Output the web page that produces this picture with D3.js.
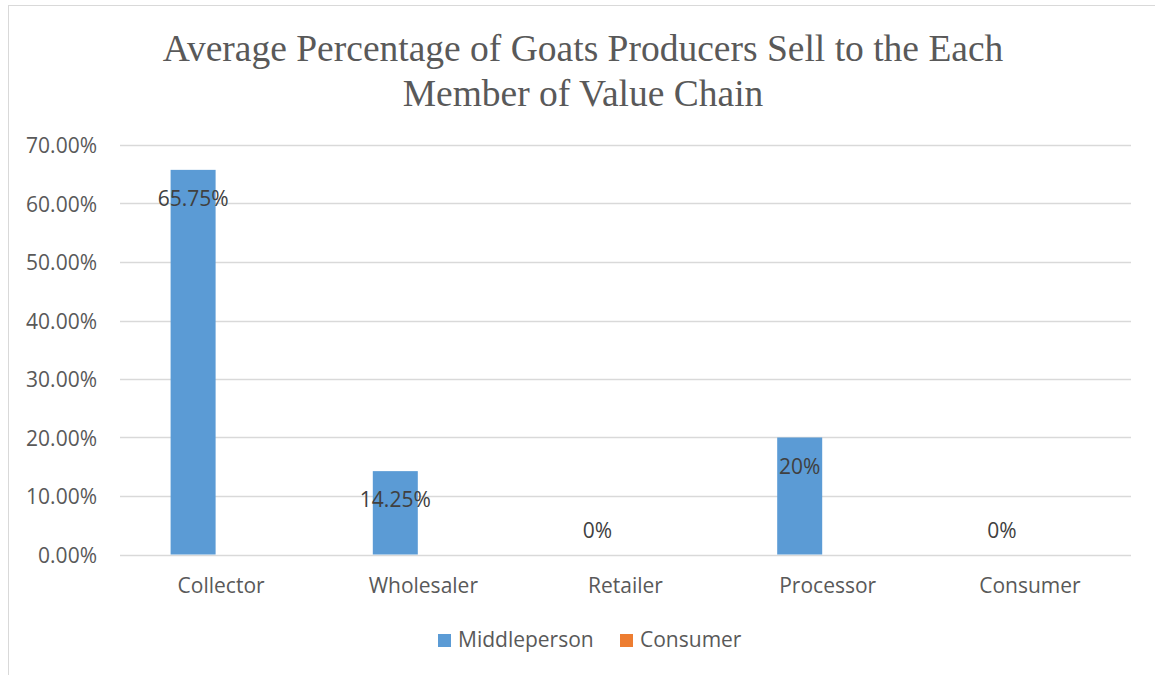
<!DOCTYPE html>
<html><head><meta charset="utf-8">
<script src="https://cdn.jsdelivr.net/npm/d3@7"></script>
<style>body{margin:0;background:#fff}svg{display:block}</style>
</head><body>
<script>
const categories = ["Collector","Wholesaler","Retailer","Processor","Consumer"];
const seriesNames = ["Middleperson","Consumer"];
const middleperson = [0.6575,0.1425,0,0.20,0];
const consumer = [0,0,0,0,0];
const labels = ["65.75%","14.25%","0%","20%","0%"];
const yTicks = [0,0.1,0.2,0.3,0.4,0.5,0.6,0.7];
const colors = ["#5B9BD5","#ED7D31"];

(function(){
const W=1155,H=675;
const FS="21px", FF="'Open Sans',sans-serif";
const svg=d3.select("body").append("svg").attr("width",W).attr("height",H);
svg.append("rect").attr("x",8.5).attr("y",5.5).attr("width",W+10).attr("height",H+10)
  .attr("fill","#fff").attr("stroke","#d9d9d9").attr("stroke-width",1);

const pl=120,pr=1131,pt=145,pb=554.5;
const x=d3.scaleBand().domain(categories).range([pl,pr]);
const y=d3.scaleLinear().domain([0,0.7]).range([pb,pt]);

const title=svg.append("text").attr("text-anchor","middle").attr("fill","#595959")
  .style("font-family","'Liberation Serif','Times New Roman',serif").style("font-size","37.5px");
title.append("tspan").attr("x",583).attr("y",61).text("Average Percentage of Goats Producers Sell to the Each");
title.append("tspan").attr("x",583).attr("y",106).text("Member of Value Chain");

svg.append("g").selectAll("line").data(yTicks).join("line")
  .attr("x1",pl).attr("x2",pr).attr("y1",d=>Math.round(y(d))+0.5).attr("y2",d=>Math.round(y(d))+0.5)
  .attr("stroke","#d9d9d9").attr("stroke-width",1.3);

const yAxis=d3.axisLeft(y).tickValues(yTicks).tickFormat(d=>(d*100).toFixed(2)+"%").tickSize(0).tickPadding(0);
const ga=svg.append("g").attr("transform",`translate(97,0)`).call(yAxis);
ga.select(".domain").remove();
ga.selectAll("text").attr("fill","#595959").attr("dy","0.36em").style("font-family",FF).style("font-size",FS);

const xAxis=d3.axisBottom(x).tickSize(0).tickPadding(0);
const gx=svg.append("g").attr("transform",`translate(0,578)`).call(xAxis);
gx.select(".domain").remove();
gx.selectAll("text").attr("fill","#595959").style("font-family",FF).style("font-size",FS);

const barW=45, off=28;
[middleperson,consumer].forEach((vals,si)=>{
  svg.append("g").selectAll("rect").data(categories).join("rect")
    .attr("x",d=>x(d)+x.bandwidth()/2+(si===0?-off:off)-barW/2)
    .attr("width",barW)
    .attr("y",(d,i)=>y(vals[i]))
    .attr("height",(d,i)=>y(0)-y(vals[i]))
    .attr("fill",colors[si]);
});

svg.append("g").selectAll("text").data(categories).join("text")
  .attr("x",d=>x(d)+x.bandwidth()/2-off)
  .attr("y",(d,i)=>middleperson[i]>0? y(middleperson[i])+36 : y(0)-17)
  .attr("text-anchor","middle").attr("fill","#404040")
  .style("font-family",FF).style("font-size",FS)
  .text((d,i)=>labels[i]);

const legItems=[{n:seriesNames[0],c:colors[0],x:438},{n:seriesNames[1],c:colors[1],x:620}];
legItems.forEach(it=>{
  svg.append("rect").attr("x",it.x).attr("y",634).attr("width",13).attr("height",13).attr("fill",it.c);
  svg.append("text").attr("x",it.x+20).attr("y",647).attr("fill","#595959")
    .style("font-family",FF).style("font-size",FS).text(it.n);
});
})();
</script>
</body></html>
